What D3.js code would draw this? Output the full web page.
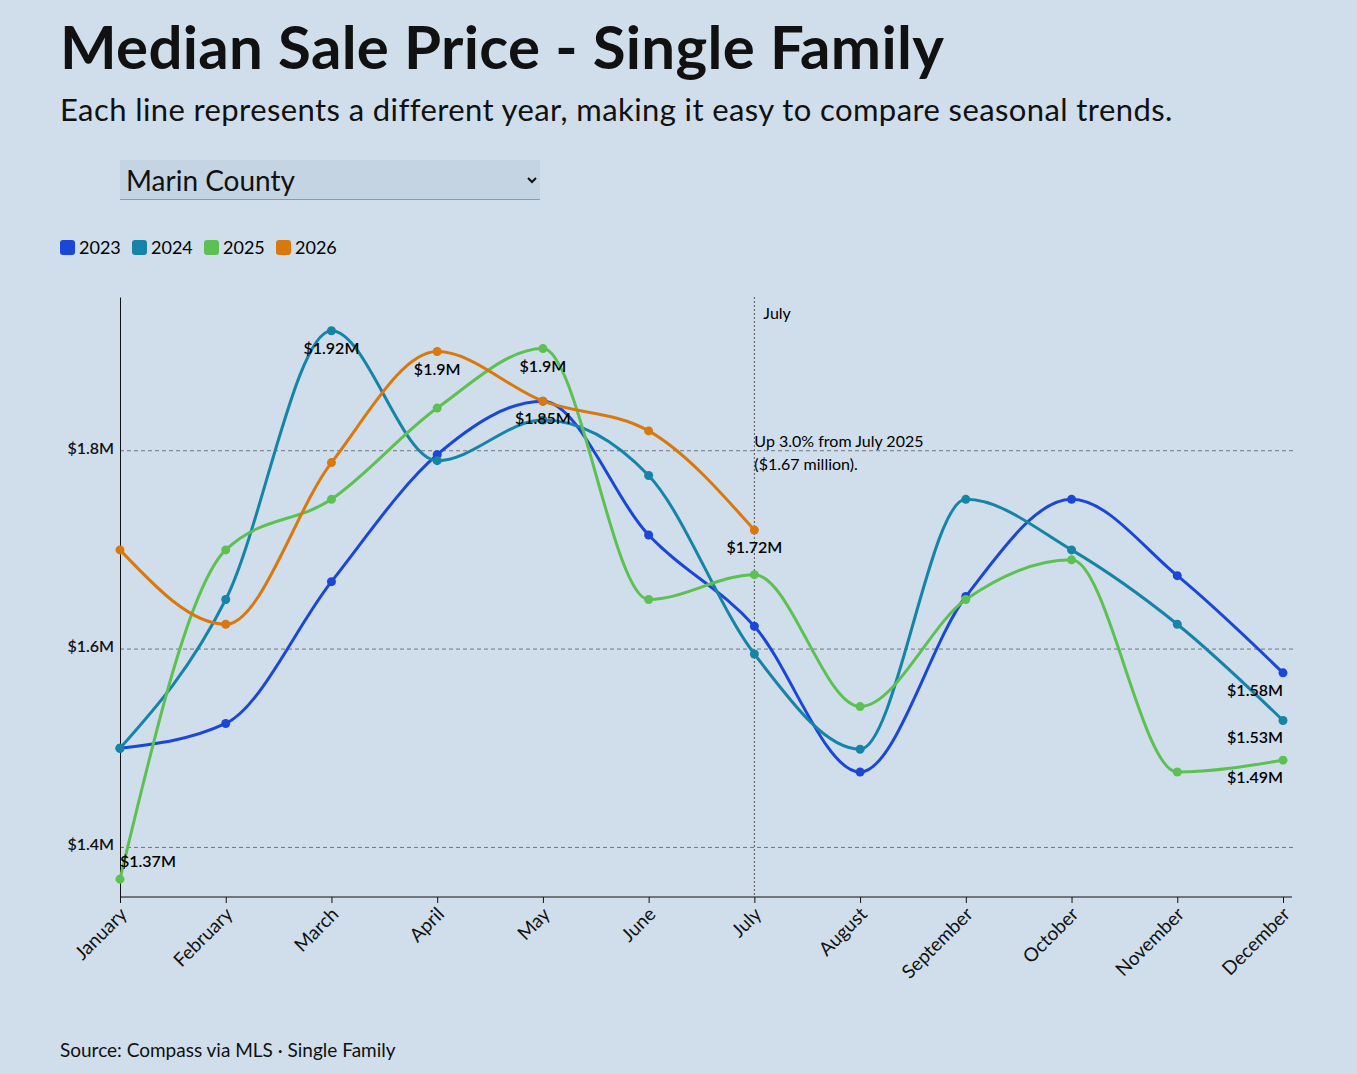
<!DOCTYPE html>
<html><head><meta charset="utf-8">
<script src="https://cdn.jsdelivr.net/npm/d3@7"></script>
<style>
body{margin:0;background:#cfdeea;font-family:Lato,"Noto Sans",sans-serif;color:#111;}
h1{position:absolute;left:60px;top:10px;margin:0;font-size:60px;font-weight:700;letter-spacing:0.3px;}
.sub{position:absolute;left:60px;top:90px;font-size:31px;letter-spacing:0.4px;}
select{position:absolute;left:120px;top:160px;width:420px;height:40px;background:#c4d4e2;border:none;border-bottom:1px solid #8a9aa8;font-family:Lato,sans-serif;font-size:28px;padding-left:2px;color:#111;}
.src{position:absolute;left:60px;top:1038px;font-size:19px;}
svg{position:absolute;left:0;top:0;}
</style></head><body>
<h1>Median Sale Price - Single Family</h1>
<div class="sub">Each line represents a different year, making it easy to compare seasonal trends.</div>
<select id="county"><option>Marin County</option></select>
<div class="src">Source: Compass via MLS · Single Family</div>
<svg id="chart" width="1357" height="1074"></svg>
<script>
var months = ["January","February","March","April","May","June","July","August","September","October","November","December"];
var years = ["2023","2024","2025","2026"];
var colors = ["#1b47d8","#1683a8","#5cc152","#d9780f"];
var v2023 = [1.50,1.525,1.668,1.796,1.85,1.715,1.623,1.476,1.653,1.751,1.674,1.576];
var v2024 = [1.50,1.65,1.921,1.79,1.831,1.775,1.595,1.499,1.751,1.70,1.625,1.528];
var v2025 = [1.368,1.70,1.751,1.843,1.903,1.65,1.675,1.542,1.65,1.69,1.476,1.488];
var v2026 = [1.70,1.625,1.788,1.90,1.85,1.82,1.72];
var yTicks = [1.4,1.6,1.8];
// labels: [series index, month index, dy]
var labels = [[1,2,23],[3,3,23],[2,4,23],[0,4,23],[3,6,23],[2,0,-12],[0,11,23],[1,11,23],[2,11,23]];
var series = [v2023,v2024,v2025,v2026];

var svg = d3.select("#chart");
var x = d3.scalePoint().domain(months).range([120,1283]);
var y = d3.scaleLinear().domain([1.35,1.955]).range([897,297]);

// legend
var lg = svg.append("g").attr("transform","translate(60,248)");
var lx = 0;
years.forEach(function(yr,i){
  lg.append("rect").attr("x",lx).attr("y",-8).attr("width",15).attr("height",15).attr("rx",3).attr("fill",colors[i]);
  lg.append("text").attr("x",lx+19).attr("y",6).attr("font-size",18).text(yr);
  lx += 72;
});

// grid
svg.append("g").selectAll("line").data(yTicks).enter().append("line")
  .attr("x1",120).attr("x2",1295).attr("y1",d=>y(d)).attr("y2",d=>y(d))
  .attr("stroke","#6c7680").attr("stroke-dasharray","4,3");

svg.append("g").attr("transform","translate(120,0)")
  .call(d3.axisLeft(y).tickValues(yTicks).tickFormat(d=>"$"+d+"M").tickSize(0).tickPadding(6))
  .call(g=>g.select(".domain").attr("stroke","#111"))
  .selectAll("text").attr("font-size",16).attr("font-weight",600).attr("font-family","Lato,sans-serif").attr("dy","0.15em");

var xa = svg.append("g").attr("transform","translate(0,897)")
  .call(d3.axisBottom(x).tickSize(6).tickSizeOuter(0));
xa.select(".domain").attr("stroke","#111").attr("d","M120,0H1292");
xa.selectAll("text").attr("font-size",19).attr("font-family","Lato,sans-serif")
  .attr("text-anchor","end").attr("dx","-0.4em").attr("dy","0.5em").attr("transform","rotate(-45)");

// July marker
svg.append("line").attr("x1",x("July")).attr("x2",x("July")).attr("y1",297).attr("y2",897)
  .attr("stroke","#555").attr("stroke-dasharray","2,2");
svg.append("text").attr("x",x("July")+9).attr("y",319).attr("font-size",16).text("July");
svg.append("text").attr("x",x("July")).attr("y",447).attr("font-size",16).text("Up 3.0% from July 2025");
svg.append("text").attr("x",x("July")).attr("y",470).attr("font-size",16).text("($1.67 million).");

var line = d3.line().x((d,i)=>x(months[i])).y(d=>y(d)).curve(d3.curveMonotoneX);
series.forEach(function(s,k){
  svg.append("path").attr("d",line(s)).attr("fill","none").attr("stroke",colors[k]).attr("stroke-width",3);
  svg.append("g").selectAll("circle").data(s).enter().append("circle")
    .attr("cx",(d,i)=>x(months[i])).attr("cy",d=>y(d)).attr("r",4.5).attr("fill",colors[k]);
});

labels.forEach(function(l){
  var v = series[l[0]][l[1]];
  var tx = x(months[l[1]]);
  var anchor = l[1]===11 ? "end" : (l[1]===0 ? "start" : "middle");
  svg.append("text").attr("x",tx).attr("y",y(v)+l[2]).attr("text-anchor",anchor)
    .attr("font-size",16).attr("font-weight",600)
    .text("$"+(+v.toFixed(2))+"M");
});
</script>
</body></html>
